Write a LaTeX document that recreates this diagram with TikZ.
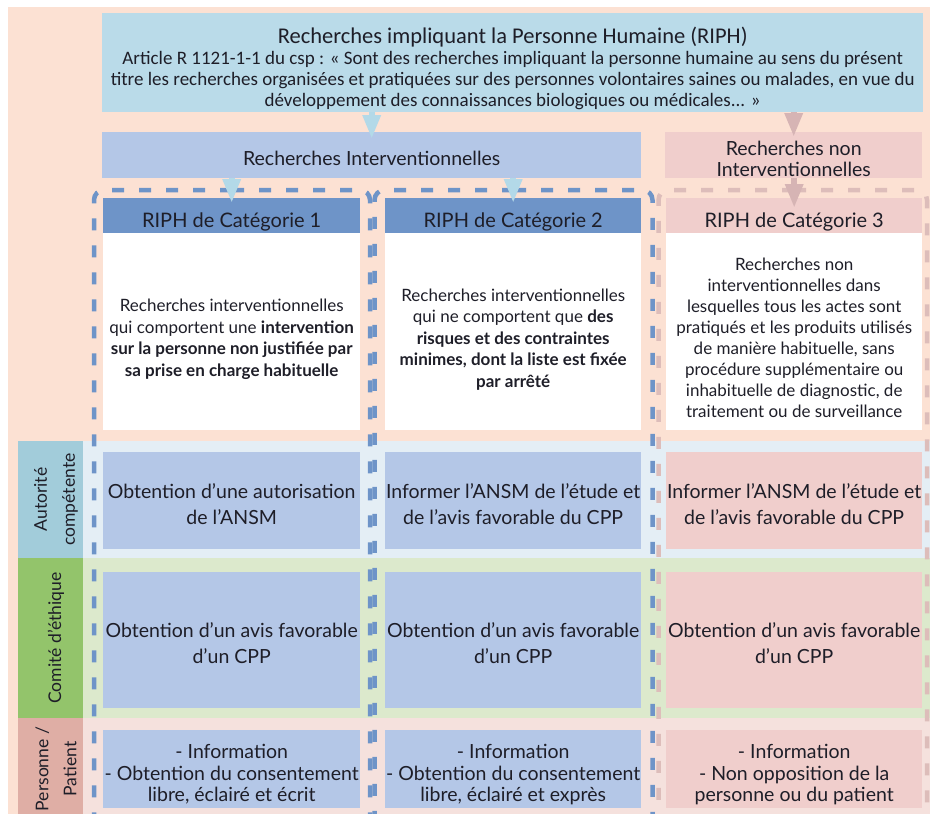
\documentclass[tikz,border=0pt]{standalone}
\usepackage{fontspec}
\setmainfont{Lato}
\newfontfamily\fonteTitre{Carlito}
\usetikzlibrary{arrows.meta}

\definecolor{peche}{HTML}{FCE1D3}
\definecolor{ciel}{HTML}{BADBE9}
\definecolor{bleuclair}{HTML}{B4C7E7}
\definecolor{bleufonce}{HTML}{6E94C8}
\definecolor{rose}{HTML}{F0CECC}
\definecolor{rosefonce}{HTML}{DDBDBA}
\definecolor{flecherose}{HTML}{D6B4B4}
\definecolor{flechebleu}{HTML}{B3D9E8}
\definecolor{autorite}{HTML}{A2CCDA}
\definecolor{autoritefond}{HTML}{E4EEF5}
\definecolor{comite}{HTML}{93C46B}
\definecolor{comitefond}{HTML}{DCE9CC}
\definecolor{patient}{HTML}{DFAEA5}
\definecolor{patientfond}{HTML}{F5E1DD}
\definecolor{encre}{HTML}{1E1E28}

% hauteur de la premiere ligne (pour descendre le texte)
\newcommand\cale[1]{\rule{0pt}{#1pt}}

\begin{document}
\begin{tikzpicture}[x=1pt, y=-1pt,
	boite/.style={anchor=north west, inner sep=0pt, align=center, text=encre},
	famille/.style={boite, font=\fontsize{19.5}{21}\selectfont},
	cellule/.style={boite, font=\fontsize{19.5}{26}\selectfont},
	entete/.style={boite, font=\fontsize{20}{22}\selectfont, text height=24pt, text depth=0pt},
	descr/.style={boite, fill=white, font=\fontsize{17}{21.5}\selectfont},
	etiquette/.style={rotate=90, align=center, inner sep=0pt, text=encre, font=\fontsize{17.5}{28}\selectfont},
	cadre/.style={line width=4.5pt, dash pattern=on 12pt off 15pt, rounded corners=10pt},
	fleche/.style={line width=6pt, -{Triangle[width=17pt,length=24pt]}},
	]
	
	% Fond
	\useasboundingbox (0,0) rectangle (930,814);
	\clip (0,0) rectangle (930,814);
	\fill[white] (0,0) rectangle (930,814);
	\fill[peche] (8,7) rectangle (940,830);
	
	% Definition des RIPH
	\node[boite, fill=ciel, minimum width=821pt, minimum height=99pt, font=\fonteTitre\fontsize{19}{21}\selectfont] (riph) at (102,13)
		{{\fontsize{22.5}{21}\selectfont\cale{28}Recherches impliquant la Personne Humaine (RIPH)}\\
		Article R 1121-1-1 du csp : « Sont des recherches impliquant la personne humaine au sens du présent\\
		titre les recherches organisées et pratiquées sur des personnes volontaires saines ou malades, en vue du\\
		développement des connaissances biologiques ou médicales... »};
	
	% Les deux familles de recherches
	\node[famille, fill=bleuclair, minimum width=539pt, minimum height=46pt] (interv) at (102,132) {\cale{21}Recherches Interventionnelles};
	\node[famille, fill=rose, minimum width=257pt, minimum height=46pt] (noninterv) at (665,132) {\cale{22}Recherches non\\Interventionnelles};
	
	% Bandes des lignes
	\fill[autoritefond] (83,441) rectangle (940,558);
	\fill[comitefond] (83,558) rectangle (940,718);
	\fill[patientfond] (83,718) rectangle (940,830);
	\fill[autorite] (18,441) rectangle (83,558);
	\fill[comite] (18,558) rectangle (83,718);
	\fill[patient] (18,718) rectangle (83,830);
	\node[etiquette] (lautorite) at (56,499.5) {Autorité\\compétente};
	\node[etiquette] (lcomite) at (56,638) {Comité d'éthique};
	\node[etiquette] (lpatient) at (56,769) {Personne /\\Patient};
	
	% Categories 1, 2 et 3
	\node[entete, fill=bleufonce, minimum width=257pt, minimum height=35pt] (cat1) at (103,198) {RIPH de Catégorie 1};
	\node[entete, fill=bleufonce, minimum width=256pt, minimum height=35pt] (cat2) at (385,198) {RIPH de Catégorie 2};
	\node[entete, fill=rose, minimum width=256pt, minimum height=35pt] (cat3) at (666,198) {RIPH de Catégorie 3};
	
	\node[descr, minimum width=257pt, minimum height=197pt] (def1) at (103,233)
		{\cale{28}Recherches interventionnelles\\qui comportent une \textbf{intervention}\\\textbf{sur la personne non justifiée par}\\\textbf{sa prise en charge habituelle}};
	\node[descr, minimum width=256pt, minimum height=197pt] (def2) at (385,233)
		{\cale{28}Recherches interventionnelles\\qui ne comportent que \textbf{des}\\\textbf{risques et des contraintes}\\\textbf{minimes, dont la liste est fixée}\\\textbf{par arrêté}};
	\node[descr, minimum width=256pt, minimum height=197pt, font=\fontsize{17}{21}\selectfont] (def3) at (666,233)
		{\cale{24}Recherches non\\interventionnelles dans\\lesquelles tous les actes sont\\pratiqués et les produits utilisés\\de manière habituelle, sans\\procédure supplémentaire ou\\inhabituelle de diagnostic, de\\traitement ou de surveillance};
	
	% Autorite competente
	\node[cellule, fill=bleuclair, minimum width=257pt, minimum height=97pt] (auto1) at (103,452) {\cale{21}Obtention d’une autorisation\\de l’ANSM};
	\node[cellule, fill=bleuclair, minimum width=256pt, minimum height=97pt] (auto2) at (385,452) {\cale{21}Informer l’ANSM de l’étude et\\de l’avis favorable du CPP};
	\node[cellule, fill=rose, minimum width=256pt, minimum height=97pt] (auto3) at (666,452) {\cale{21}Informer l’ANSM de l’étude et\\de l’avis favorable du CPP};
	
	% Comite d'ethique
	\node[cellule, fill=bleuclair, minimum width=257pt, minimum height=136pt] (cpp1) at (103,572) {\cale{20}Obtention d'un avis favorable\\d'un CPP};
	\node[cellule, fill=bleuclair, minimum width=256pt, minimum height=136pt] (cpp2) at (385,572) {\cale{20}Obtention d'un avis favorable\\d'un CPP};
	\node[cellule, fill=rose, minimum width=256pt, minimum height=136pt] (cpp3) at (666,572) {\cale{20}Obtention d'un avis favorable\\d'un CPP};
	
	% Personne / patient
	\node[cellule, fill=bleuclair, minimum width=257pt, minimum height=78pt, font=\fontsize{19.5}{21.5}\selectfont] (pers1) at (103,730) {\cale{25}- Information\\- Obtention du consentement\\libre, éclairé et écrit};
	\node[cellule, fill=bleuclair, minimum width=256pt, minimum height=78pt, font=\fontsize{19.5}{21.5}\selectfont] (pers2) at (385,730) {\cale{25}- Information\\- Obtention du consentement\\libre, éclairé et exprès};
	\node[cellule, fill=rose, minimum width=256pt, minimum height=78pt, font=\fontsize{19.5}{21.5}\selectfont] (pers3) at (666,730) {\cale{25}- Information\\- Non opposition de la\\personne ou du patient};
	
	% Cadres pointilles
	\draw[cadre, bleufonce] (232,190) -| (94,830);
	\draw[cadre, bleufonce] (232,190) -| (370,830);
	\draw[cadre, bleufonce] (514,190) -| (374.5,830);
	\draw[cadre, bleufonce] (514,190) -| (652.5,830);
	\draw[cadre, rosefonce] (794,190) -| (658.5,830);
	\draw[cadre, rosefonce] (794,190) -| (927,830);
	
	% Fleches
	\draw[fleche, flechebleu, shorten >=-7pt] (riph.south -| interv.north) -- (interv.north);
	\draw[fleche, flecherose, shorten >=-5pt] (riph.south -| noninterv.north) -- (noninterv.north);
	\draw[fleche, flechebleu, shorten >=-5pt] (interv.south -| cat1.north) -- (cat1.north);
	\draw[fleche, flechebleu, shorten >=-5pt] (interv.south -| cat2.north) -- (cat2.north);
	\draw[fleche, flecherose, shorten >=-10pt] (noninterv.south -| cat3.north) -- (cat3.north);
\end{tikzpicture}
\end{document}
